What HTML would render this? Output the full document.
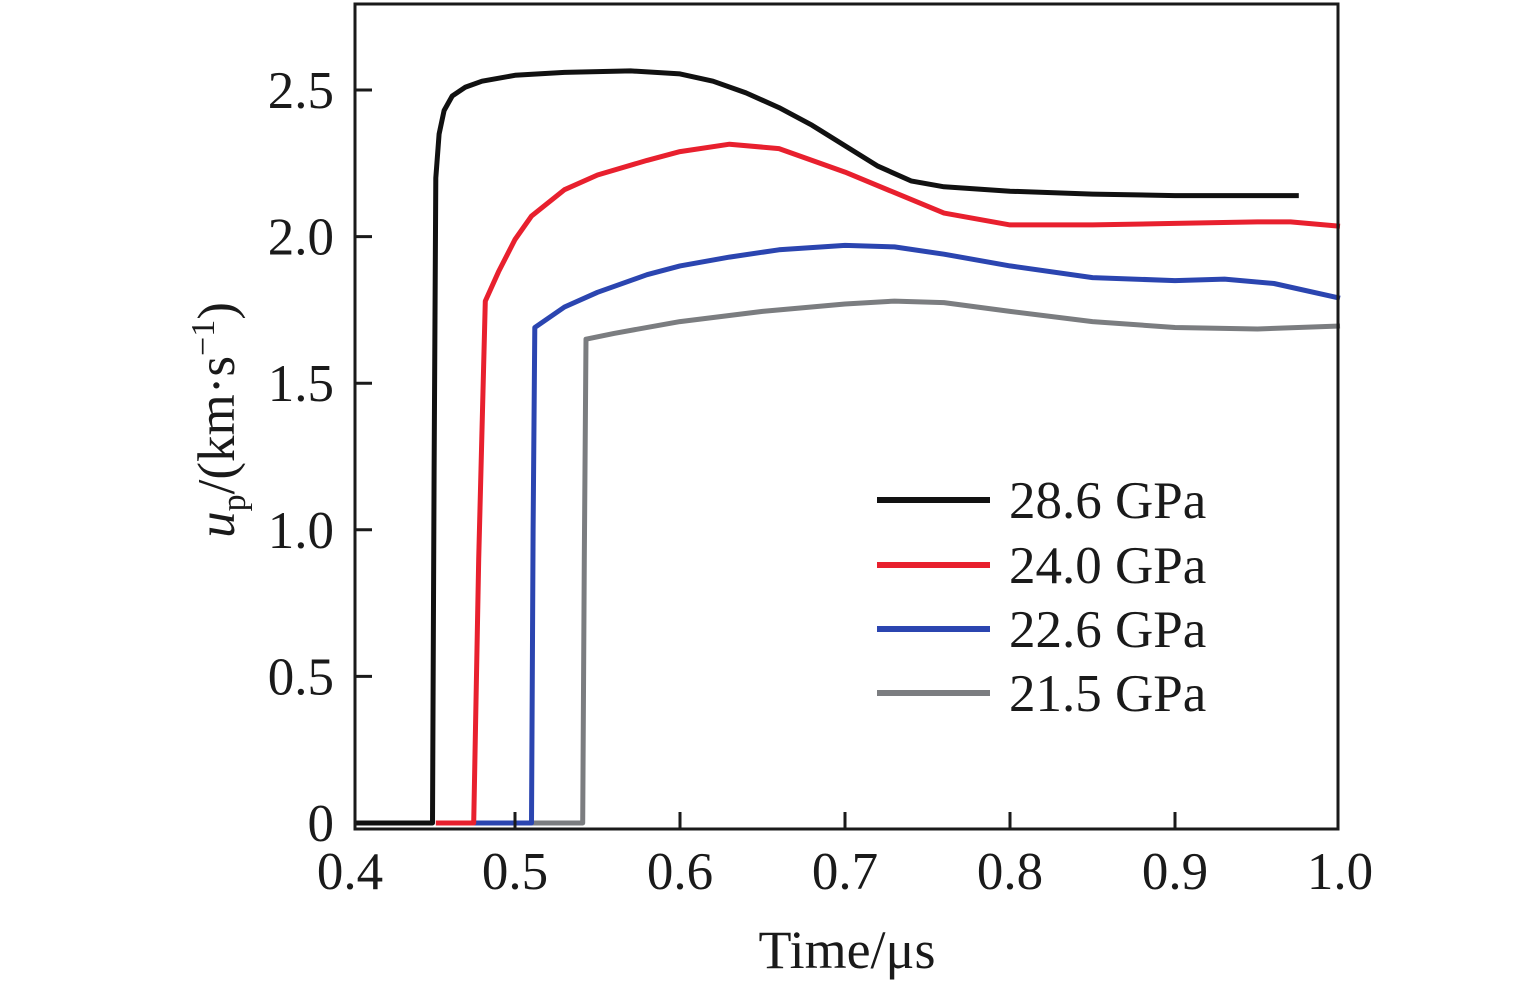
<!DOCTYPE html>
<html><head><meta charset="utf-8"><style>
html,body{margin:0;padding:0;background:#fff;}
svg{display:block;font-family:"Liberation Serif",serif;}
</style></head><body>
<svg id="chart" width="1535" height="986" viewBox="0 0 1535 986">
<g id="marks"></g>
<g id="axes"></g>
<g id="legend"></g>
</svg>
<script>
const xTicks=[0.4,0.5,0.6,0.7,0.8,0.9,1.0];
const xTickLabels=["0.4","0.5","0.6","0.7","0.8","0.9","1.0"];
const yTicks=[0,0.5,1.0,1.5,2.0,2.5];
const yTickLabels=["0","0.5","1.0","1.5","2.0","2.5"];
const seriesNames=["28.6 GPa","24.0 GPa","22.6 GPa","21.5 GPa"];
const seriesColors=["#111111","#e8202e","#2b45b0","#7b7d80"];
const blackT=[0.403,0.450,0.451,0.452,0.454,0.457,0.462,0.47,0.48,0.5,0.53,0.57,0.6,0.62,0.64,0.66,0.68,0.70,0.72,0.74,0.76,0.8,0.85,0.9,0.975];
const blackV=[0,0,1.2,2.2,2.35,2.43,2.48,2.51,2.53,2.55,2.56,2.565,2.555,2.53,2.49,2.44,2.38,2.31,2.24,2.19,2.17,2.155,2.145,2.14,2.14];
const redT=[0.452,0.475,0.478,0.482,0.49,0.5,0.51,0.53,0.55,0.58,0.6,0.63,0.66,0.68,0.7,0.73,0.76,0.8,0.85,0.9,0.95,0.97,1.0];
const redV=[0,0,0.9,1.78,1.88,1.99,2.07,2.16,2.21,2.26,2.29,2.315,2.3,2.26,2.22,2.15,2.08,2.04,2.04,2.045,2.05,2.05,2.035];
const blueT=[0.475,0.510,0.511,0.512,0.53,0.55,0.58,0.6,0.63,0.66,0.7,0.73,0.76,0.8,0.85,0.9,0.93,0.96,1.0];
const blueV=[0,0,1.0,1.69,1.76,1.81,1.87,1.9,1.93,1.955,1.97,1.965,1.94,1.9,1.86,1.85,1.855,1.84,1.79];
const grayT=[0.51,0.541,0.542,0.543,0.56,0.6,0.65,0.7,0.73,0.76,0.8,0.85,0.9,0.95,1.0];
const grayV=[0,0,0.9,1.65,1.67,1.71,1.745,1.77,1.78,1.775,1.745,1.71,1.69,1.685,1.695];
const allT=[blackT,redT,blueT,grayT], allV=[blackV,redV,blueV,grayV];

const NS="http://www.w3.org/2000/svg";
const X=v=>350+(v-0.4)*1650;
const Y=v=>823-v*293.2;
function mk(tag,attrs,parent,txt){const e=document.createElementNS(NS,tag);for(const k in attrs)e.setAttribute(k,attrs[k]);if(txt!==undefined)e.textContent=txt;parent.appendChild(e);return e;}
const marks=document.getElementById('marks'),axes=document.getElementById('axes'),legend=document.getElementById('legend');

for(let s=3;s>=0;s--){
  const d=allT[s].map((t,i)=>(i?'L':'M')+X(t).toFixed(1)+','+Y(allV[s][i]).toFixed(1)).join(' ');
  const p=mk('path',{d:d,fill:'none',stroke:seriesColors[s],'stroke-width':5,'stroke-linejoin':'round'},marks);
  
  
}
const frame=mk('rect',{x:355,y:4,width:983,height:825,fill:'none',stroke:'#1a1a1a','stroke-width':3},axes);


xTicks.forEach((t,i)=>{
  if(i>0&&i<xTicks.length-1){const tk=mk('line',{x1:X(t),x2:X(t),y1:829,y2:812,stroke:'#1a1a1a','stroke-width':3},axes);
  
  }
  const lb=mk('text',{x:X(t),y:889,'font-size':53,'text-anchor':'middle',fill:'#1a1a1a'},axes,xTickLabels[i]);
  
  
});
yTicks.forEach((t,i)=>{
  if(i>0){const tk=mk('line',{x1:355,x2:372,y1:Y(t),y2:Y(t),stroke:'#1a1a1a','stroke-width':3},axes);
  
  }
  const lb=mk('text',{x:334,y:Y(t)+18,'font-size':53,'text-anchor':'end',fill:'#1a1a1a'},axes,yTickLabels[i]);
  
  
});
const xt=mk('text',{x:847,y:968,'font-size':54,'text-anchor':'middle',fill:'#1a1a1a'},axes,'Time/μs');


const yt=mk('text',{transform:'translate(234,420) rotate(-90)','font-size':53,'text-anchor':'middle',fill:'#1a1a1a'},axes);


mk('tspan',{'font-style':'italic'},yt,'u');
mk('tspan',{'font-size':34,dy:11},yt,'p');
mk('tspan',{dy:-11},yt,'/(km·s');
mk('tspan',{'font-size':34,dy:-20},yt,'−1');
mk('tspan',{dy:20},yt,')');
const ly=[500,565,629,693];
seriesNames.forEach((n,i)=>{
  const g=mk('g',{},legend);
  
  
  mk('line',{x1:877,x2:990,y1:ly[i],y2:ly[i],stroke:seriesColors[i],'stroke-width':6},g);
  mk('text',{x:1009,y:ly[i]+18,'font-size':53,fill:'#1a1a1a'},g,n);
});
</script>
</body></html>
